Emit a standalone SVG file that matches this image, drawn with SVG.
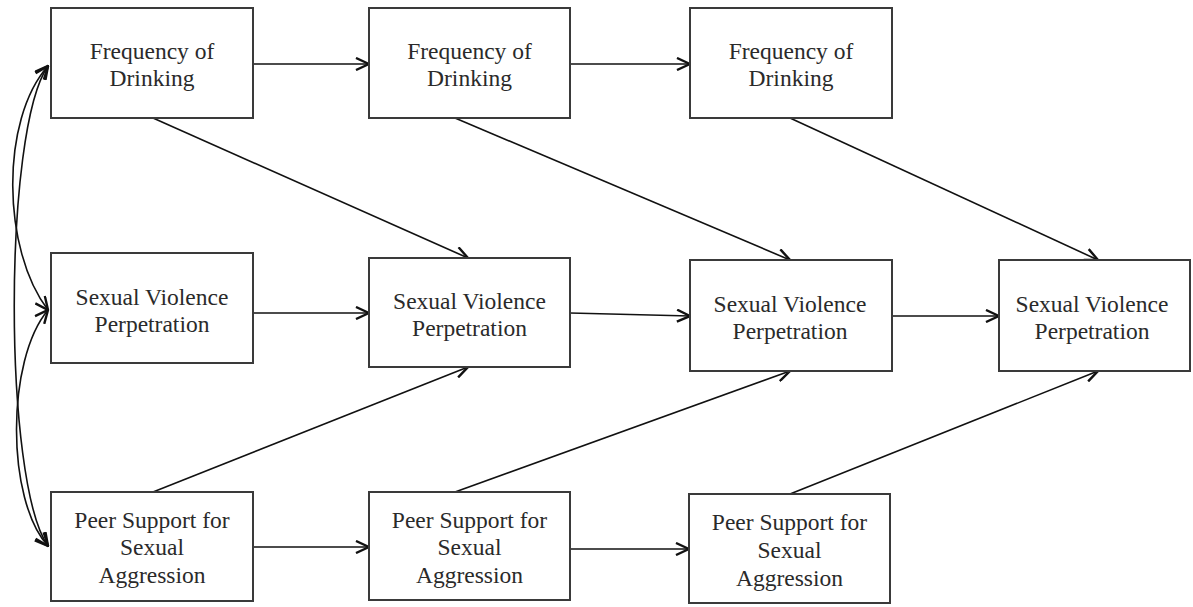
<svg xmlns="http://www.w3.org/2000/svg" width="1193" height="607" viewBox="0 0 1193 607">
<style>
.box{fill:#fff;stroke:#3a3a3a;stroke-width:2}
.t{font-family:"Liberation Serif","Times New Roman",serif;font-size:23.5px;fill:#2a2a2a;text-anchor:middle}
.c{fill:none;stroke:#111;stroke-width:1.6}
</style>
<defs>
<marker id="ah" markerUnits="userSpaceOnUse" viewBox="0 0 16 14" refX="15" refY="7" markerWidth="16" markerHeight="14" orient="auto-start-reverse">
<path d="M2,1 L15,7 L2,13" fill="none" stroke="#111" stroke-width="2.4"/>
</marker>
</defs>
<rect width="1193" height="607" fill="#fff"/>
<g id="connectors">
<path class="c" d="M48,66 C3,130 3,482 48,546" marker-start="url(#ah)" marker-end="url(#ah)"/>
<path class="c" d="M48,66 C0,120 2,250 48,310" marker-start="url(#ah)" marker-end="url(#ah)"/>
<path class="c" d="M48,310 C6,360 6,500 48,546" marker-start="url(#ah)" marker-end="url(#ah)"/>
<line class="c" x1="253" y1="64" x2="369" y2="64" marker-end="url(#ah)"/>
<line class="c" x1="570" y1="64" x2="690" y2="64" marker-end="url(#ah)"/>
<line class="c" x1="253" y1="313" x2="369" y2="313" marker-end="url(#ah)"/>
<line class="c" x1="570" y1="313" x2="690" y2="316" marker-end="url(#ah)"/>
<line class="c" x1="892" y1="316" x2="999" y2="316" marker-end="url(#ah)"/>
<line class="c" x1="253" y1="547" x2="369" y2="547" marker-end="url(#ah)"/>
<line class="c" x1="570" y1="549" x2="689" y2="549" marker-end="url(#ah)"/>
<line class="c" x1="153" y1="118" x2="468" y2="258" marker-end="url(#ah)"/>
<line class="c" x1="455" y1="118" x2="790" y2="260" marker-end="url(#ah)"/>
<line class="c" x1="790" y1="118" x2="1098" y2="260" marker-end="url(#ah)"/>
<line class="c" x1="153" y1="492" x2="468" y2="367" marker-end="url(#ah)"/>
<line class="c" x1="455" y1="492" x2="790" y2="371" marker-end="url(#ah)"/>
<line class="c" x1="790" y1="494" x2="1098" y2="371" marker-end="url(#ah)"/>
</g>
<g id="fd1"><rect class="box" x="51" y="8" width="202" height="110"/><text class="t" x="152" y="59">Frequency of</text><text class="t" x="152" y="86">Drinking</text></g>
<g id="fd2"><rect class="box" x="369" y="8" width="201" height="110"/><text class="t" x="469.5" y="59">Frequency of</text><text class="t" x="469.5" y="86">Drinking</text></g>
<g id="fd3"><rect class="box" x="690" y="8" width="202" height="110"/><text class="t" x="791" y="59">Frequency of</text><text class="t" x="791" y="86">Drinking</text></g>
<g id="sv1"><rect class="box" x="51" y="253" width="202" height="110"/><text class="t" x="152" y="305">Sexual Violence</text><text class="t" x="152" y="332">Perpetration</text></g>
<g id="sv2"><rect class="box" x="369" y="258" width="201" height="109"/><text class="t" x="469.5" y="309">Sexual Violence</text><text class="t" x="469.5" y="336">Perpetration</text></g>
<g id="sv3"><rect class="box" x="690" y="260" width="202" height="111"/><text class="t" x="790" y="312">Sexual Violence</text><text class="t" x="790" y="339">Perpetration</text></g>
<g id="sv4"><rect class="box" x="999" y="260" width="191" height="111"/><text class="t" x="1092" y="312">Sexual Violence</text><text class="t" x="1092" y="339">Perpetration</text></g>
<g id="ps1"><rect class="box" x="51" y="492" width="202" height="109"/><text class="t" x="152" y="528">Peer Support for</text><text class="t" x="152" y="555">Sexual</text><text class="t" x="152" y="583">Aggression</text></g>
<g id="ps2"><rect class="box" x="369" y="492" width="201" height="108"/><text class="t" x="469.5" y="528">Peer Support for</text><text class="t" x="469.5" y="555">Sexual</text><text class="t" x="469.5" y="583">Aggression</text></g>
<g id="ps3"><rect class="box" x="689" y="494" width="201" height="109"/><text class="t" x="789.5" y="530">Peer Support for</text><text class="t" x="789.5" y="558">Sexual</text><text class="t" x="789.5" y="586">Aggression</text></g>
</svg>
